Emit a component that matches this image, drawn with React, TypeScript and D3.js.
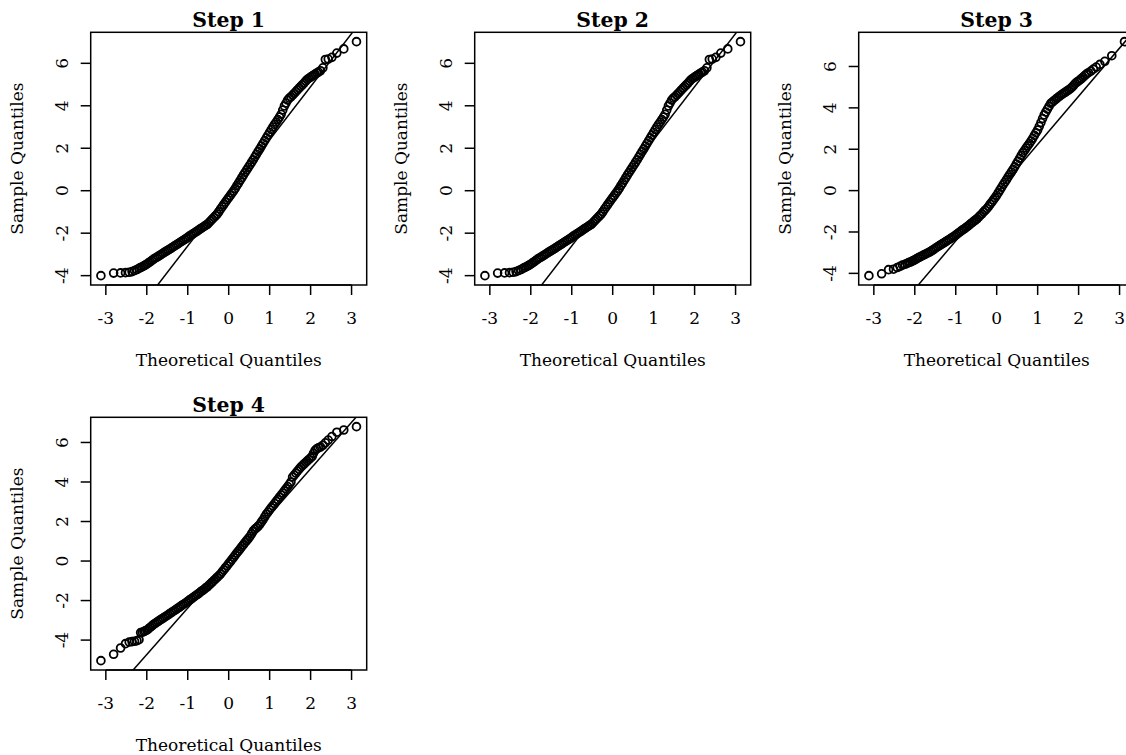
import React from 'react'
import * as d3 from 'd3'

// theoretical normal quantiles shared by all four panels (tails + dense middle)
const theoreticalQuantiles = [
  -3.12, -2.81, -2.64, -2.52, -2.43, -2.36, -2.30, -2.24, -2.19, -2.15, -2.11, -2.07, -2.04,
  -2.00, -1.96, -1.92, -1.88, -1.84, -1.80, -1.76, -1.72, -1.68, -1.64,
  -1.60, -1.56, -1.52, -1.48, -1.44, -1.40, -1.36, -1.32, -1.28, -1.24,
  -1.20, -1.16, -1.12, -1.08, -1.04, -1.00, -0.96, -0.92, -0.88, -0.84,
  -0.80, -0.76, -0.72, -0.68, -0.64, -0.60, -0.56, -0.52, -0.48, -0.44,
  -0.40, -0.36, -0.32, -0.28, -0.24, -0.20, -0.16, -0.12, -0.08, -0.04,
  0.00, 0.04, 0.08, 0.12, 0.16, 0.20, 0.24, 0.28, 0.32, 0.36,
  0.40, 0.44, 0.48, 0.52, 0.56, 0.60, 0.64, 0.68, 0.72, 0.76,
  0.80, 0.84, 0.88, 0.92, 0.96, 1.00, 1.04, 1.08, 1.12, 1.16,
  1.20, 1.24, 1.28, 1.32, 1.36, 1.40, 1.44, 1.48, 1.52, 1.56,
  1.60, 1.64, 1.68, 1.72, 1.76, 1.80, 1.84, 1.88, 1.92, 1.96,
  2.00,
  2.04, 2.07, 2.11, 2.15, 2.19, 2.24, 2.30, 2.36, 2.43, 2.52, 2.64, 2.81, 3.12,
]

const step1Sample = [
  -4.00, -3.88, -3.87, -3.86, -3.84, -3.81, -3.76, -3.71, -3.66, -3.62, -3.58, -3.54, -3.50,
  -3.46, -3.40, -3.35, -3.29, -3.23, -3.18, -3.14, -3.09, -3.04, -2.99,
  -2.94, -2.89, -2.84, -2.80, -2.75, -2.70, -2.65, -2.60, -2.55, -2.50,
  -2.45, -2.40, -2.35, -2.30, -2.25, -2.20, -2.14, -2.09, -2.04, -1.99,
  -1.94, -1.89, -1.83, -1.78, -1.73, -1.68, -1.63, -1.58, -1.50, -1.42,
  -1.34, -1.26, -1.18, -1.10, -0.99, -0.87, -0.76, -0.65, -0.54, -0.43,
  -0.33, -0.22, -0.11, -0.01, 0.11, 0.24, 0.36, 0.49, 0.61, 0.74,
  0.86, 0.98, 1.10, 1.22, 1.34, 1.46, 1.59, 1.72, 1.85, 1.97,
  2.10, 2.23, 2.36, 2.49, 2.62, 2.75, 2.88, 3.00, 3.12, 3.23,
  3.35, 3.47, 3.60, 3.80, 3.99, 4.13, 4.27, 4.36, 4.42, 4.50,
  4.58, 4.67, 4.75, 4.83, 4.91, 4.99, 5.07, 5.16, 5.24, 5.30,
  5.35,
  5.40, 5.44, 5.49, 5.54, 5.59, 5.65, 5.79, 6.18, 6.20, 6.28, 6.48, 6.68, 7.02,
]

const step2Sample = [
  -4.00, -3.88, -3.87, -3.86, -3.84, -3.81, -3.76, -3.71, -3.66, -3.62, -3.58, -3.54, -3.50,
  -3.46, -3.40, -3.35, -3.29, -3.23, -3.18, -3.14, -3.09, -3.04, -2.99,
  -2.94, -2.89, -2.84, -2.80, -2.75, -2.70, -2.65, -2.60, -2.55, -2.50,
  -2.45, -2.40, -2.35, -2.30, -2.25, -2.20, -2.14, -2.09, -2.04, -1.99,
  -1.94, -1.89, -1.83, -1.78, -1.73, -1.68, -1.63, -1.58, -1.50, -1.42,
  -1.34, -1.26, -1.18, -1.10, -0.99, -0.87, -0.76, -0.65, -0.54, -0.43,
  -0.33, -0.22, -0.11, -0.01, 0.11, 0.24, 0.36, 0.49, 0.61, 0.74,
  0.86, 0.98, 1.10, 1.22, 1.34, 1.46, 1.59, 1.72, 1.85, 1.97,
  2.10, 2.23, 2.36, 2.49, 2.62, 2.75, 2.88, 3.00, 3.12, 3.23,
  3.35, 3.47, 3.60, 3.80, 3.99, 4.13, 4.27, 4.36, 4.42, 4.50,
  4.58, 4.67, 4.75, 4.83, 4.91, 4.99, 5.07, 5.16, 5.24, 5.30,
  5.35,
  5.40, 5.44, 5.49, 5.54, 5.59, 5.65, 5.79, 6.18, 6.20, 6.28, 6.48, 6.68, 7.02,
]

const step3Sample = [
  -4.11, -4.02, -3.82, -3.80, -3.72, -3.66, -3.60, -3.56, -3.52, -3.48, -3.45, -3.42, -3.38,
  -3.35, -3.30, -3.25, -3.21, -3.17, -3.13, -3.09, -3.05, -3.01, -2.97,
  -2.92, -2.87, -2.82, -2.76, -2.71, -2.66, -2.61, -2.56, -2.51, -2.46,
  -2.41, -2.36, -2.31, -2.26, -2.21, -2.15, -2.09, -2.03, -1.97, -1.91,
  -1.86, -1.80, -1.74, -1.68, -1.61, -1.55, -1.48, -1.42, -1.36, -1.28,
  -1.20, -1.12, -1.03, -0.95, -0.87, -0.77, -0.66, -0.56, -0.45, -0.34,
  -0.23, -0.10, 0.03, 0.16, 0.29, 0.41, 0.53, 0.66, 0.78, 0.90,
  1.02, 1.15, 1.29, 1.42, 1.56, 1.70, 1.83, 1.94, 2.06, 2.17,
  2.28, 2.40, 2.53, 2.67, 2.80, 2.93, 3.11, 3.29, 3.48, 3.66,
  3.80, 3.94, 4.08, 4.22, 4.28, 4.35, 4.41, 4.48, 4.54, 4.60,
  4.66, 4.71, 4.76, 4.82, 4.87, 4.93, 5.00, 5.09, 5.18, 5.25,
  5.30,
  5.36, 5.42, 5.49, 5.56, 5.63, 5.70, 5.78, 5.87, 5.97, 6.10, 6.25, 6.52, 7.20,
]

const step4Sample = [
  -5.04, -4.72, -4.40, -4.18, -4.10, -4.08, -4.06, -4.03, -3.98, -3.62, -3.60, -3.57, -3.53,
  -3.50, -3.43, -3.36, -3.29, -3.22, -3.16, -3.10, -3.05, -2.99, -2.94,
  -2.89, -2.83, -2.78, -2.72, -2.66, -2.61, -2.55, -2.50, -2.44, -2.38,
  -2.33, -2.27, -2.21, -2.16, -2.10, -2.04, -1.98, -1.92, -1.86, -1.80,
  -1.74, -1.68, -1.62, -1.55, -1.49, -1.43, -1.36, -1.30, -1.22, -1.14,
  -1.06, -0.98, -0.90, -0.82, -0.74, -0.66, -0.55, -0.45, -0.34, -0.24,
  -0.13, -0.03, 0.08, 0.19, 0.30, 0.41, 0.51, 0.62, 0.73, 0.83,
  0.94, 1.04, 1.14, 1.25, 1.38, 1.52, 1.62, 1.68, 1.76, 1.86,
  1.98, 2.10, 2.23, 2.37, 2.48, 2.59, 2.70, 2.80, 2.91, 3.02,
  3.12, 3.23, 3.34, 3.44, 3.55, 3.66, 3.77, 3.88, 4.00, 4.25,
  4.35, 4.45, 4.55, 4.65, 4.75, 4.83, 4.91, 4.99, 5.07, 5.14,
  5.22,
  5.30, 5.45, 5.60, 5.68, 5.73, 5.77, 5.86, 5.98, 6.12, 6.30, 6.52, 6.63, 6.80,
]

const stepTitles = ['Step 1', 'Step 2', 'Step 3', 'Step 4']
const stepSamples = [step1Sample, step2Sample, step3Sample, step4Sample]
// qqline through the quartiles: intercept and slope per step
const lineIntercepts = [-0.10, -0.10, -0.10, -0.03]
const lineSlopes = [2.50, 2.50, 2.33, 2.35]
const xTicks = [-3, -2, -1, 0, 1, 2, 3]
const yTicks = [-4, -2, 0, 2, 4, 6]

const W = 1126
const H = 755
const CELL_W = 384
const CELL_H = 385
const BOX_LEFT = 90.7
const BOX_TOP = 32.3
const BOX_W = 276
const BOX_H = 252.7
const FONT = '"DejaVu Serif", "Liberation Serif", serif'
const INK = '#000'
const LW = 1.5

// R style axis limits: data range stretched by 4% on each side
function rLimits(values: number[]): [number, number] {
  const [lo, hi] = d3.extent(values) as [number, number]
  const pad = (hi - lo) * 0.04
  return [lo - pad, hi + pad]
}

function QQPanel({ index }: { index: number }) {
  const col = index % 3
  const row = Math.floor(index / 3)
  const left = BOX_LEFT + col * CELL_W
  const top = BOX_TOP + row * CELL_H
  const right = left + BOX_W
  const bottom = top + BOX_H
  const sample = stepSamples[index]

  const x = d3.scaleLinear().domain(rLimits(theoreticalQuantiles)).range([left, right])
  const y = d3.scaleLinear().domain(rLimits(sample)).range([bottom, top])

  const [x0, x1] = x.domain()
  const a = lineIntercepts[index]
  const b = lineSlopes[index]
  const clipId = `qq-clip-${index}`
  const midY = (top + bottom) / 2
  const midX = (left + right) / 2

  return (
    <g>
      <defs>
        <clipPath id={clipId}>
          <rect x={left} y={top} width={BOX_W} height={BOX_H} />
        </clipPath>
      </defs>

      <g clipPath={`url(#${clipId})`}>
        {theoreticalQuantiles.map((q, i) => (
          <circle key={i} cx={x(q)} cy={y(sample[i])} r={3.9}
            fill="none" stroke={INK} strokeWidth={1.8} />
        ))}
        <line x1={x(x0)} y1={y(a + b * x0)} x2={x(x1)} y2={y(a + b * x1)}
          stroke={INK} strokeWidth={LW} />
      </g>

      <rect x={left} y={top} width={BOX_W} height={BOX_H}
        fill="none" stroke={INK} strokeWidth={LW} />

      {/* bottom axis */}
      <line x1={x(xTicks[0])} x2={x(xTicks[xTicks.length - 1])} y1={bottom} y2={bottom}
        stroke={INK} strokeWidth={LW} />
      {xTicks.map(t => (
        <g key={t}>
          <line x1={x(t)} x2={x(t)} y1={bottom} y2={bottom + 10} stroke={INK} strokeWidth={LW} />
          <text x={x(t)} y={bottom + 38.5} textAnchor="middle" fontSize={17}
            fontFamily={FONT} fill={INK}>{t}</text>
        </g>
      ))}

      {/* left axis */}
      {yTicks.map(t => (
        <g key={t}>
          <line x1={left - 10} x2={left} y1={y(t)} y2={y(t)} stroke={INK} strokeWidth={LW} />
          <text transform={`translate(${left - 22.5},${y(t)}) rotate(-90)`}
            textAnchor="middle" fontSize={17} fontFamily={FONT} fill={INK}>{t}</text>
        </g>
      ))}

      <text x={midX} y={top - 5} textAnchor="middle" fontSize={20.4}
        fontWeight="bold" fontFamily={FONT} fill={INK}>{stepTitles[index]}</text>
      <text x={midX} y={bottom + 81} textAnchor="middle" fontSize={17}
        fontFamily={FONT} fill={INK}>Theoretical Quantiles</text>
      <text transform={`translate(${left - 67.5},${midY}) rotate(-90)`}
        textAnchor="middle" fontSize={17} fontFamily={FONT} fill={INK}>Sample Quantiles</text>
    </g>
  )
}

export default function App() {
  return (
    <svg width={W} height={H} viewBox={`0 0 ${W} ${H}`}
      style={{ position: 'absolute', left: 0, top: 0, background: '#fff' }}>
      <rect width={W} height={H} fill="#fff" />
      {stepTitles.map((_, i) => <QQPanel key={i} index={i} />)}
    </svg>
  )
}
